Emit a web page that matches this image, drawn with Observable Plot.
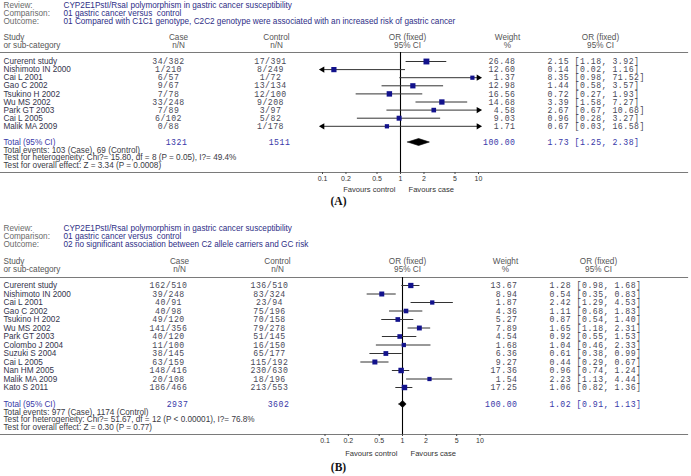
<!DOCTYPE html>
<html><head><meta charset="utf-8">
<script src="https://cdn.jsdelivr.net/npm/d3@7"></script>
<script src="https://cdn.jsdelivr.net/npm/@observablehq/plot@0.6"></script>
<style>
html,body{margin:0;padding:0;background:#fff;}
#chart svg{display:block;}
svg text{white-space:pre;}
</style></head><body><div id="chart"></div>
<script>
// ---------- shared text ----------
const reviewLabels = ["Review:", "Comparison:", "Outcome:"];
const headerLeft = ["Study", "or sub-category"];
const headerCols = [["Case", "n/N"], ["Control", "n/N"], ["OR (fixed)", "95% CI"], ["Weight", "%"], ["OR (fixed)", "95% CI"]];
const tickValues = [0.1, 0.2, 0.5, 1, 2, 5, 10];
const favours = ["Favours control", "Favours case"];
const totalLabel = "Total (95% CI)";

// ---------- panel A ----------
const reviewA = ["CYP2E1PstI/RsaI polymorphism in gastric cancer susceptibility", "01 gastric cancer versus  control", "01 Compared with C1C1 genotype, C2C2 genotype were associated with an increased risk of gastric cancer"];
const studiesA = ["Curerent study", "Nishimoto IN 2000", "Cai L 2001", "Gao C 2002", "Tsukino H 2002", "Wu MS 2002", "Park GT 2003", "Cai L 2005", "Malik MA 2009"];
const caseA = ["34/382", "1/210", "6/57", "9/67", "7/78", "33/248", "7/89", "6/102", "0/88"];
const controlA = ["17/391", "8/249", "1/72", "13/134", "12/100", "9/208", "3/97", "5/82", "1/178"];
const weightA = [26.48, 12.60, 1.37, 12.98, 16.56, 14.68, 4.58, 9.03, 1.71];
const orA = [2.15, 0.14, 8.35, 1.44, 0.72, 3.39, 2.67, 0.96, 0.67];
const loA = [1.18, 0.02, 0.98, 0.58, 0.27, 1.58, 0.67, 0.28, 0.03];
const hiA = [3.92, 1.16, 71.52, 3.57, 1.93, 7.27, 10.68, 3.27, 16.58];
const totalA = {cases: "1321", controls: "1511", weight: 100.00, or: 1.73, lo: 1.25, hi: 2.38};
const summaryA = ["Total events: 103 (Case), 69 (Control)", "Test for heterogeneity: Chi?= 15.80, df = 8 (P = 0.05), I?= 49.4%", "Test for overall effect: Z = 3.34 (P = 0.0008)"];

// ---------- panel B ----------
const reviewB = ["CYP2E1PstI/RsaI polymorphism in gastric cancer susceptibility", "01 gastric cancer versus  control", "02 no significant association between C2 allele carriers and GC risk"];
const studiesB = ["Curerent study", "Nishimoto IN 2000", "Cai L 2001", "Gao C 2002", "Tsukino H 2002", "Wu MS 2002", "Park GT 2003", "Colombo J 2004", "Suzuki S 2004", "Cai L 2005", "Nan HM 2005", "Malik MA 2009", "Kato S 2011"];
const caseB = ["162/510", "39/248", "40/91", "40/98", "49/120", "141/356", "40/120", "11/100", "38/145", "63/159", "148/416", "20/108", "186/466"];
const controlB = ["136/510", "83/324", "23/94", "75/196", "70/158", "79/278", "51/145", "16/150", "65/177", "115/192", "230/630", "18/196", "213/553"];
const weightB = [13.67, 8.94, 1.87, 4.36, 5.27, 7.89, 4.54, 1.68, 6.36, 9.27, 17.36, 1.54, 17.25];
const orB = [1.28, 0.54, 2.42, 1.11, 0.87, 1.65, 0.92, 1.04, 0.61, 0.44, 0.96, 2.23, 1.06];
const loB = [0.98, 0.35, 1.29, 0.68, 0.54, 1.18, 0.55, 0.46, 0.38, 0.29, 0.74, 1.13, 0.82];
const hiB = [1.68, 0.83, 4.53, 1.83, 1.40, 2.31, 1.53, 2.33, 0.99, 0.67, 1.24, 4.44, 1.36];
const totalB = {cases: "2937", controls: "3602", weight: 100.00, or: 1.02, lo: 0.91, hi: 1.13};
const summaryB = ["Total events: 977 (Case), 1174 (Control)", "Test for heterogeneity: Chi?= 51.67, df = 12 (P < 0.00001), I?= 76.8%", "Test for overall effect: Z = 0.30 (P = 0.77)"];

// ---------- styling ----------
const C = {label: "#6a6a6a", review: "#2e2e86", head: "#555", study: "#34344c", num: "#4a4a58",
  total: "#3838a8", sum: "#3a3a44", line: "#7a7a7a", ci: "#333", box: "#12128c"};
const MONO = "Liberation Mono, DejaVu Sans Mono, monospace";

function forest(d, L) {
  const n = d.studies.length;
  const rows = d.studies.map((s, i) => ({i, study: s, cs: d.cases[i], ct: d.controls[i], w: d.weights[i], or: d.or[i], lo: d.lo[i], hi: d.hi[i]}));
  const tot = {i: n + 1, ...d.total};
  const fmtOR = r => `${r.or.toFixed(2)} [${r.lo.toFixed(2)}, ${r.hi.toFixed(2)}]`;
  const xmin = tickValues[0], xmax = tickValues[tickValues.length - 1];
  const top = y => y - L.lineY;
  const id = t => t;
  const M = {lineAnchor: "middle"};
  const marks = [];

  reviewLabels.forEach((lab, k) => {
    marks.push(Plot.text([lab], {...M, text: id, frameAnchor: "top-left", dx: 3, dy: top(L.reviewY[k]), textAnchor: "start", fill: C.label}));
    marks.push(Plot.text([d.review[k]], {...M, text: id, frameAnchor: "top-left", dx: L.reviewX, dy: top(L.reviewY[k]), textAnchor: "start", fill: C.review}));
  });
  headerLeft.forEach((t, k) => marks.push(Plot.text([t], {...M, text: id, frameAnchor: "top-left", dx: 3, dy: top(L.headY[k]), textAnchor: "start", fill: C.head})));
  headerCols.forEach((lines, c) => lines.forEach((t, k) => {
    const o = {...M, text: id, dy: top(L.headY[k]), textAnchor: "middle", fill: C.head};
    if (c === 2) marks.push(Plot.text([t], {...o, x: () => 1, dx: L.orHeadDx, frameAnchor: "top"}));
    else marks.push(Plot.text([t], {...o, frameAnchor: "top-left", dx: L.headX[c]}));
  }));

  marks.push(Plot.frame({anchor: "top", stroke: C.line, strokeWidth: 1.2}));
  marks.push(Plot.frame({anchor: "bottom", stroke: C.line, strokeWidth: 1.2}));
  marks.push(Plot.ruleX([1], {stroke: "#000", strokeWidth: 1.1}));

  // confidence intervals, arrows, boxes
  marks.push(Plot.ruleY(rows, {y: "i", x1: r => Math.max(r.lo, xmin), x2: r => Math.min(r.hi, xmax), stroke: C.ci, strokeWidth: 1}));
  marks.push(Plot.dot(rows.filter(r => r.hi > xmax), {x: () => xmax, y: "i", symbol: "triangle", rotate: 90, r: 2.3, fill: "#000"}));
  marks.push(Plot.dot(rows.filter(r => r.lo < xmin), {x: () => xmin, y: "i", symbol: "triangle", rotate: -90, r: 2.3, fill: "#000"}));
  marks.push(Plot.dot(rows, {x: "or", y: "i", r: "w", symbol: "square", fill: C.box}));

  // pooled diamond
  const h = L.diamondH / L.step;
  const dia = [{x: tot.lo, y1: tot.i, y2: tot.i}, {x: tot.or, y1: tot.i - h, y2: tot.i + h}, {x: tot.hi, y1: tot.i, y2: tot.i}];
  marks.push(Plot.areaY(dia, {x: "x", y1: "y1", y2: "y2", fill: "#000", stroke: "#000", strokeWidth: 0.6}));

  // text columns
  marks.push(Plot.text(rows, {...M, y: "i", text: "study", frameAnchor: "left", dx: 3, textAnchor: "start", fill: C.study}));
  marks.push(Plot.text(rows, {...M, y: "i", text: "cs", frameAnchor: "left", dx: L.caseX, textAnchor: "middle", fontFamily: MONO, fill: C.num}));
  marks.push(Plot.text(rows, {...M, y: "i", text: "ct", frameAnchor: "left", dx: L.controlX, textAnchor: "middle", fontFamily: MONO, fill: C.num}));
  marks.push(Plot.text(rows, {...M, y: "i", text: r => r.w.toFixed(2), frameAnchor: "left", dx: L.weightX, textAnchor: "end", fontFamily: MONO, fill: C.num}));
  marks.push(Plot.text(rows, {...M, y: "i", text: fmtOR, frameAnchor: "left", dx: L.orX, textAnchor: "start", fontFamily: MONO, fill: C.num}));

  // total row
  marks.push(Plot.text([tot], {...M, y: "i", text: () => totalLabel, frameAnchor: "left", dx: 3, textAnchor: "start", fill: C.total}));
  marks.push(Plot.text([tot], {...M, y: "i", text: "cases", frameAnchor: "left", dx: L.totCaseX, textAnchor: "middle", fontFamily: MONO, fill: C.total}));
  marks.push(Plot.text([tot], {...M, y: "i", text: "controls", frameAnchor: "left", dx: L.totControlX, textAnchor: "middle", fontFamily: MONO, fill: C.total}));
  marks.push(Plot.text([tot], {...M, y: "i", text: r => r.weight.toFixed(2), frameAnchor: "left", dx: L.weightX, textAnchor: "end", fontFamily: MONO, fill: C.total}));
  marks.push(Plot.text([tot], {...M, y: "i", text: fmtOR, frameAnchor: "left", dx: L.orX, textAnchor: "start", fontFamily: MONO, fill: C.total}));

  // summary lines
  d.summary.forEach((t, k) => marks.push(Plot.text([t], {...M, text: id, frameAnchor: "bottom-left", dx: 3, dy: -L.sumGap * (d.summary.length - k), textAnchor: "start", fill: C.sum})));

  // axis & favours
  marks.push(Plot.axisX({ticks: tickValues, tickFormat: v => String(v), tickSize: 2, tickPadding: 2, fontSize: 7, label: null, stroke: "#444"}));
  marks.push(Plot.text([favours[0]], {...M, text: id, x: () => 1, frameAnchor: "bottom", dy: L.favDy, dx: -5, textAnchor: "end", fontSize: 7.6, fill: "#333"}));
  marks.push(Plot.text([favours[1]], {...M, text: id, x: () => 1, frameAnchor: "bottom", dy: L.favDy, dx: 8, textAnchor: "start", fontSize: 7.6, fill: "#333"}));
  marks.push(Plot.text([d.tag], {...M, text: id, frameAnchor: "bottom-left", dx: L.tagX, dy: L.tagDy, textAnchor: "middle", fontFamily: "Liberation Serif, DejaVu Serif, serif", fontWeight: "bold", fontSize: 11.5, fill: "#111"}));

  const svg = Plot.plot({
    width: 691, height: L.height,
    marginTop: L.lineY, marginBottom: L.height - L.axisY, marginLeft: 0, marginRight: 4,
    x: {type: "log", domain: [xmin, xmax], range: [L.one - L.decade, L.one + L.decade]},
    y: {domain: [0, n + 1], range: [L.firstRow, L.firstRow + (n + 1) * L.step], axis: null},
    r: {type: "sqrt", domain: [0, 30], range: [2.1, 3.4]},
    style: {fontFamily: "Liberation Sans, Arial, sans-serif", fontSize: "8.2px", color: "#333", background: "#fff"},
    marks
  });
  svg.querySelectorAll("g[font-family*='Mono']").forEach(g => g.style.letterSpacing = "0.5px");
  return svg;
}

const layoutA = {height: 224, reviewY: [4.5, 12.5, 20.5], reviewX: 63, headY: [37, 45], lineY: 52, firstRow: 61, step: 8.1,
  axisY: 172, sumGap: 7.5, one: 400, decade: 78, orHeadDx: 7, headX: [178, 276, null, 507, 600],
  caseX: 168, controlX: 270, totCaseX: 176, totControlX: 279, weightX: 515, orX: 547, diamondH: 3.5,
  favDy: 17, tagX: 338, tagDy: 29};
const layoutB = {height: 252, reviewY: [4, 12, 20], reviewX: 63, headY: [37, 45], lineY: 53, firstRow: 61, step: 8.5,
  axisY: 210, sumGap: 7.5, one: 402, decade: 77.5, orHeadDx: 5, headX: [179, 277, null, 505, 598],
  caseX: 168, controlX: 269, totCaseX: 177, totControlX: 278, weightX: 517, orX: 549, diamondH: 3.6,
  favDy: 19.5, tagX: 338, tagDy: 33};

const chart = document.getElementById("chart");
chart.append(forest({review: reviewA, studies: studiesA, cases: caseA, controls: controlA, weights: weightA, or: orA, lo: loA, hi: hiA, total: totalA, summary: summaryA, tag: "(A)"}, layoutA));
chart.append(forest({review: reviewB, studies: studiesB, cases: caseB, controls: controlB, weights: weightB, or: orB, lo: loB, hi: hiB, total: totalB, summary: summaryB, tag: "(B)"}, layoutB));
</script></body></html>
